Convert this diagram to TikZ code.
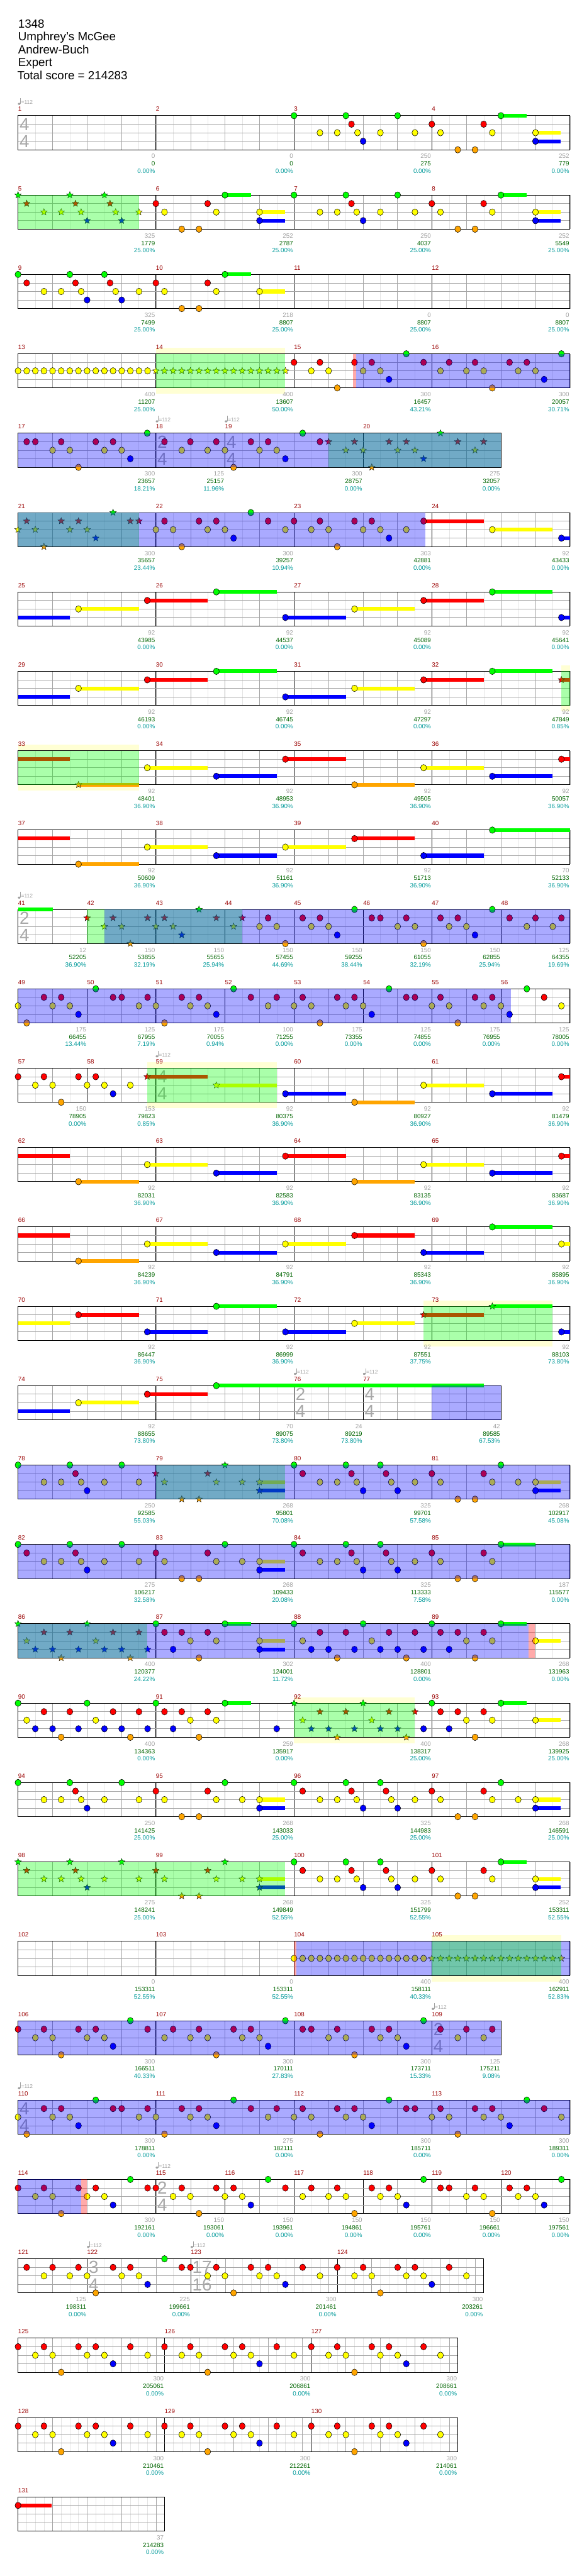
\documentclass[tikz,border=0pt]{standalone}
\usepackage{fontspec}
\setmainfont{Liberation Sans}
\usetikzlibrary{shapes.geometric}
\definecolor{nGcol}{HTML}{00FF00}
\definecolor{nRcol}{HTML}{FF0000}
\definecolor{nYcol}{HTML}{FFFF00}
\definecolor{nBcol}{HTML}{0000FF}
\definecolor{nOcol}{HTML}{FFA500}
\definecolor{cPale}{HTML}{FFFFD4}
\definecolor{cLbGray}{HTML}{A0A0A0}
\definecolor{cLbGreen}{HTML}{006400}
\definecolor{cLbTeal}{HTML}{009999}
\definecolor{cMnum}{HTML}{990000}
\definecolor{cGridLt}{HTML}{E4E4E4}
\definecolor{cGridBt}{HTML}{A6A6A6}
\definecolor{cSig}{HTML}{A8A8A8}
\definecolor{cTmp}{HTML}{A0A0A0}
\newcount\lc
\newcount\sc
% note heads, stars and sustains (x in reference units, lane 0..4)
\newcommand\noteset[3]{\foreach \xx in {#3}{\filldraw[fill=#2, draw=black, line width=0.6pt] (\xx,#1*15.15) ellipse [x radius=5.3pt, y radius=5.8pt];}}
\newcommand\starset[3]{\foreach \xx in {#3}{\global\advance\sc by 1\relax \node[starnote, fill=#2, name=st\the\sc] at (\xx,#1*15.15) {};}}
\newcommand\nGn[1]{\noteset{0}{nGcol}{#1}}
\newcommand\nRd[1]{\noteset{1}{nRcol}{#1}}
\newcommand\nYl[1]{\noteset{2}{nYcol}{#1}}
\newcommand\nBl[1]{\noteset{3}{nBcol}{#1}}
\newcommand\nOr[1]{\noteset{4}{nOcol}{#1}}
\newcommand\sGn[1]{\starset{0}{nGcol}{#1}}
\newcommand\sRd[1]{\starset{1}{nRcol}{#1}}
\newcommand\sYl[1]{\starset{2}{nYcol}{#1}}
\newcommand\sBl[1]{\starset{3}{nBcol}{#1}}
\newcommand\sOr[1]{\starset{4}{nOcol}{#1}}
\newcommand\sus[4]{\fill[#2] (#3,#1*15.15-3.4) rectangle (#4,#1*15.15+3.4);}
% overlays
\newcommand\ovl[3]{\fill[#1, opacity=0.333] (#2,0) rectangle (#3,60.6);}
\newcommand\paley[2]{\fill[cPale] (#1,-10.6) rectangle (#2,71.2);}
% labels
\newcommand\lbl[4]{\global\advance\lc by 1\relax
  \node[lbg, name=sa\the\lc] at (#1-2,76) {#2};
  \node[lbn, name=sb\the\lc] at (#1-2,89.3) {#3};
  \node[lbp, name=sc\the\lc] at (#1-2,102.3) {#4\%};}
\newcommand\tsig[3]{\global\advance\lc by 1\relax
  \node[tsg, name=tn\the\lc] at (#1+4,15.4) {#2};
  \node[tsg, name=td\the\lc] at (#1+4,45.6) {#3};}
\newcommand\tmpo[1]{\global\advance\lc by 1\relax
  \fill[cTmp] (#1+3,-21) ellipse [x radius=2.3pt, y radius=1.9pt];
  \draw[cTmp, line width=0.5pt] (#1+6.2,-21) -- (#1+6.2,-31);
  \node[tmp, name=tp\the\lc] at (#1+8,-20.5) {=112};}
\newcommand\mnums[2]{\foreach \xx [count=\ii from #1] in {#2}{\node[mnum, name=m\ii] at (\xx,-7.8) {\ii};}}
% staff
\newcommand\stfill[1]{\fill[white] (48,0) rectangle (#1,60.6);}
\newcommand\steighth[1]{\foreach \xx in {93.9375,139.875,...,#1}{\draw[gridlt] (\xx,0) -- (\xx,60.6);}
  \foreach \xx in {139.875,231.75,...,#1}{\draw[gridbt] (\xx,0) -- (\xx,60.6);}}
\newcommand\stsixt[1]{\foreach \mm in {#1}{\foreach \j in {1,...,16}{\draw[gridlt] ({\mm+22.97*\j},0) -- ++(0,60.6);}
  \foreach \j in {4,8,12,16}{\draw[gridbt] ({\mm+22.97*\j},0) -- ++(0,60.6);}}}
\newcommand\stfin[2]{\foreach \xx in {#2}{\draw[measln] (\xx,0) -- (\xx,60.6);}
  \foreach \yy in {15.15,30.3,45.45}{\draw[lanel] (48,\yy) -- (#1,\yy);}
  \draw[frame] (48,0) rectangle (#1,60.6);}
\newcommand\staff[2]{\stfill{#1}\steighth{#1}\stfin{#1}{#2}}

\begin{document}
\begin{tikzpicture}[x=0.6667pt, y=-1pt,
    rowat/.style={shift={(0,205.5+141*#1)}},
    gridlt/.style={draw=cGridLt, line width=0.6pt},
    gridbt/.style={draw=cGridBt, line width=0.6pt},
    measln/.style={draw=black, line width=0.6pt},
    lanel/.style={draw=cGridBt, line width=0.9pt},
    frame/.style={draw=black, line width=1.1pt},
    starnote/.style={star, star points=5, star point ratio=2.3, minimum size=12.5pt, inner sep=0pt, draw=black, line width=0.4pt},
    lbg/.style={anchor=base east, inner sep=0pt, text=cLbGray, font=\fontsize{11}{13}\selectfont},
    lbn/.style={anchor=base east, inner sep=0pt, text=cLbGreen, font=\fontsize{11}{13}\selectfont},
    lbp/.style={anchor=base east, inner sep=0pt, text=cLbTeal, font=\fontsize{11}{13}\selectfont},
    mnum/.style={anchor=base west, inner sep=0pt, text=cMnum, font=\fontsize{11}{13}\selectfont},
    tmp/.style={anchor=base west, inner sep=0pt, text=cTmp, font=\fontsize{9.5}{11}\selectfont},
    tsg/.style={anchor=west, inner sep=0pt, text=cSig, font=\fontsize{31}{33}\selectfont},
    hdr/.style={anchor=base west, inner sep=0pt, font=\fontsize{21}{24}\selectfont},
]
\useasboundingbox (0,0) rectangle (1536,4576);

% header
\node[hdr] (songid) at (48,49.2) {1348};
\node[hdr] (artist) at (48,72.2) {Umphrey's McGee};
\node[hdr] (title) at (48,95.2) {Andrew-Buch};
\node[hdr] (level) at (48,118.2) {Expert};
\node[hdr] (total) at (46,141.2) {Total score = 214283};

% measures 1-4
\begin{scope}[rowat=0]
\staff{1518}{415,783,1150}
\tsig{48}{4}{4}
\sus{0}{nGcol}{1334}{1403}\sus{2}{nYcol}{1426}{1493}\sus{3}{nBcol}{1426}{1493}
\nGn{783,921,1059,1334}
\nRd{936,1150,1288}
\nYl{852,898,952,1013,1105,1173,1311,1426}
\nBl{967,1426}
\nOr{1219,1265}
\tmpo{48}
\mnums{1}{48,415,783,1150}
\lbl{415}{0}{0}{0.00}\lbl{783}{0}{0}{0.00}\lbl{1150}{250}{275}{0.00}\lbl{1518}{252}{779}{0.00}
\end{scope}

% measures 5-8
\begin{scope}[rowat=1]
\staff{1518}{415,783,1150}
\sus{0}{nGcol}{599}{668}\sus{0}{nGcol}{1334}{1403}
\sus{2}{nYcol}{691}{759}\sus{2}{nYcol}{1426}{1493}
\sus{3}{nBcol}{691}{759}\sus{3}{nBcol}{1426}{1493}
\sGn{48,186,278}\sRd{71,201,293}\sYl{117,163,216,308,370}\sBl{232,324}
\nGn{599,783,921,1059,1334}
\nRd{415,553,936,1150,1288}
\nYl{438,576,691,852,898,950,1013,1105,1173,1311,1426}
\nBl{691,967,1426}
\nOr{484,530,1219,1265}
\ovl{nGcol}{48}{370}
\mnums{5}{48,415,783,1150}
\lbl{415}{325}{1779}{25.00}\lbl{783}{252}{2787}{25.00}\lbl{1150}{250}{4037}{25.00}\lbl{1518}{252}{5549}{25.00}
\end{scope}

% measures 9-12
\begin{scope}[rowat=2]
\staff{1518}{415,783,1150}
\sus{0}{nGcol}{599}{668}\sus{2}{nYcol}{691}{759}
\nGn{48,186,278,599}
\nRd{71,201,293,415,553}
\nYl{117,163,216,308,370,438,576,691}
\nBl{232,324}
\nOr{484,530}
\mnums{9}{48,415,783,1150}
\lbl{415}{325}{7499}{25.00}\lbl{783}{218}{8807}{25.00}\lbl{1150}{0}{8807}{25.00}\lbl{1518}{0}{8807}{25.00}
\end{scope}

% measures 13-16
\begin{scope}[rowat=3]
\paley{415}{759}
\staff{1518}{415,783,1150}
\nYl{48,71,...,393}
\sYl{415,438,...,760}
\nRd{783,852,944,990,1128,1196,1265,1357,1403}
\nYl{829,875,967,1013,1173,1242,1288,1380,1426}
\nGn{1082,1495}
\nBl{1036,1449}
\nOr{898,1311}
\ovl{nGcol}{415}{759}\ovl{nRcol}{940}{948}\ovl{nBcol}{948}{1518}
\mnums{13}{48,415,783,1150}
\lbl{415}{400}{11207}{25.00}\lbl{783}{400}{13607}{50.00}\lbl{1150}{300}{16457}{43.21}\lbl{1518}{300}{20057}{30.71}
\end{scope}

% measures 17-20
\begin{scope}[rowat=4]
\staff{1334}{415,599,967}
\tsig{415}{2}{4}\tsig{599}{4}{4}
\nRd{71,94,163,255,301,438,507,576,668,714,852}
\nYl{140,186,278,324,484,553,599,691,737}
\nGn{392,806}
\nBl{347,760}
\nOr{209,622}
\sRd{875,944,1036,1082,1219,1288}\sYl{921,967,1059,1105,1265}\sGn{1173}\sBl{1128}\sOr{990}
\ovl{nGcol}{875}{1334}\ovl{nBcol}{48}{1334}
\tmpo{415}\tmpo{599}
\mnums{17}{48,415,599,967}
\lbl{415}{300}{23657}{18.21}\lbl{599}{125}{25157}{11.96}\lbl{967}{300}{28757}{0.00}\lbl{1334}{275}{32057}{0.00}
\end{scope}

% measures 21-24
\begin{scope}[rowat=5]
\staff{1518}{415,783,1150}
\sus{1}{nRcol}{1128}{1288}\sus{2}{nYcol}{1311}{1472}\sus{3}{nBcol}{1495}{1518}
\sRd{71,163,209,347,370}\sYl{48,94,186,232}\sGn{301}\sBl{255}\sOr{117}
\nRd{438,530,576,714,783,852,944,990,1128}
\nYl{415,461,553,599,760,829,875,967,1013,1082,1311}
\nGn{668}
\nBl{622,1036,1495}
\nOr{484,898}
\ovl{nGcol}{48}{370}\ovl{nBcol}{48}{1133}
\mnums{21}{48,415,783,1150}
\lbl{415}{300}{35657}{23.44}\lbl{783}{300}{39257}{10.94}\lbl{1150}{303}{42881}{0.00}\lbl{1518}{92}{43433}{0.00}
\end{scope}

% measures 25-28
\begin{scope}[rowat=6]
\staff{1518}{415,783,1150}
\sus{3}{nBcol}{48}{186}\sus{3}{nBcol}{760}{921}\sus{3}{nBcol}{1495}{1518}
\sus{2}{nYcol}{209}{370}\sus{2}{nYcol}{944}{1104}
\sus{1}{nRcol}{392}{553}\sus{1}{nRcol}{1128}{1288}
\sus{0}{nGcol}{576}{737}\sus{0}{nGcol}{1311}{1472}
\nBl{760,1495}\nYl{209,944}\nRd{392,1128}\nGn{576,1311}
\mnums{25}{48,415,783,1150}
\lbl{415}{92}{43985}{0.00}\lbl{783}{92}{44537}{0.00}\lbl{1150}{92}{45089}{0.00}\lbl{1518}{92}{45641}{0.00}
\end{scope}

% measures 29-32
\begin{scope}[rowat=7]
\paley{1495}{1518}
\staff{1518}{415,783,1150}
\sus{3}{nBcol}{48}{186}\sus{3}{nBcol}{760}{921}
\sus{2}{nYcol}{209}{370}\sus{2}{nYcol}{944}{1104}
\sus{1}{nRcol}{392}{553}\sus{1}{nRcol}{1128}{1288}\sus{1}{nRcol}{1495}{1518}
\sus{0}{nGcol}{576}{737}\sus{0}{nGcol}{1311}{1472}
\nBl{760}\nYl{209,944}\nRd{392,1128}\nGn{576,1311}\sRd{1495}
\ovl{nGcol}{1495}{1518}
\mnums{29}{48,415,783,1150}
\lbl{415}{92}{46193}{0.00}\lbl{783}{92}{46745}{0.00}\lbl{1150}{92}{47297}{0.00}\lbl{1518}{92}{47849}{0.85}
\end{scope}

% measures 33-36
\begin{scope}[rowat=8]
\paley{48}{370}
\staff{1518}{415,783,1150}
\sus{1}{nRcol}{48}{186}\sus{4}{nOcol}{209}{370}\sus{2}{nYcol}{392}{553}\sus{2}{nYcol}{1128}{1288}
\sus{3}{nBcol}{576}{737}\sus{3}{nBcol}{1311}{1472}\sus{1}{nRcol}{760}{921}\sus{1}{nRcol}{1495}{1518}\sus{4}{nOcol}{944}{1104}
\sOr{209}\nYl{392,1128}\nBl{576,1311}\nRd{760,1495}\nOr{944}
\ovl{nGcol}{48}{370}
\mnums{33}{48,415,783,1150}
\lbl{415}{92}{48401}{36.90}\lbl{783}{92}{48953}{36.90}\lbl{1150}{92}{49505}{36.90}\lbl{1518}{92}{50057}{36.90}
\end{scope}

% measures 37-40
\begin{scope}[rowat=9]
\staff{1518}{415,783,1150}
\sus{1}{nRcol}{48}{186}\sus{1}{nRcol}{944}{1104}\sus{4}{nOcol}{209}{370}\sus{2}{nYcol}{392}{553}\sus{2}{nYcol}{760}{921}
\sus{3}{nBcol}{576}{737}\sus{3}{nBcol}{1128}{1288}\sus{0}{nGcol}{1311}{1518}
\nRd{944}\nOr{209}\nYl{392,760}\nBl{576,1128}\nGn{1311}
\mnums{37}{48,415,783,1150}
\lbl{415}{92}{50609}{36.90}\lbl{783}{92}{51161}{36.90}\lbl{1150}{92}{51713}{36.90}\lbl{1518}{70}{52133}{36.90}
\end{scope}

% measures 41-48
\begin{scope}[rowat=10]
\staff{1518}{232,415,599,783,967,1150,1334}
\tsig{48}{2}{4}
\sus{0}{nGcol}{48}{140}
\sRd{232,301,393,438,576,645}\sYl{278,324,415,461,622}\sGn{530}\sBl{484}\sOr{347}
\nRd{714,806,852,990,1013,1082,1173,1219,1357,1426,1495}
\nYl{691,737,829,875,1059,1105,1196,1242,1403,1472}
\nGn{944,1311}\nBl{898,1265}\nOr{760,1128}
\ovl{nGcol}{232}{645}\ovl{nBcol}{278}{1518}
\tmpo{48}
\mnums{41}{48,232,415,599,783,967,1150,1334}
\lbl{232}{12}{52205}{36.90}\lbl{415}{150}{53855}{32.19}\lbl{599}{150}{55655}{25.94}\lbl{783}{150}{57455}{44.69}
\lbl{967}{150}{59255}{38.44}\lbl{1150}{150}{61055}{32.19}\lbl{1334}{150}{62855}{25.94}\lbl{1518}{125}{64355}{19.69}
\end{scope}

% measures 49-56
\begin{scope}[rowat=11]
\staff{1518}{232,415,599,783,967,1150,1334}
\nYl{48,140,186,370,415,507,553,714,783,829,921,967,1150,1196,1288,1334,1495}
\nRd{117,163,301,324,393,484,530,668,737,806,898,944,1082,1105,1173,1265,1311,1449}
\nGn{255,622,1036,1403}\nBl{209,576,990,1357}\nOr{71,438,852,1219}
\ovl{nBcol}{48}{1360}
\mnums{49}{48,232,415,599,783,967,1150,1334}
\lbl{232}{175}{66455}{13.44}\lbl{415}{125}{67955}{7.19}\lbl{599}{175}{70055}{0.94}\lbl{783}{100}{71255}{0.00}
\lbl{967}{175}{73355}{0.00}\lbl{1150}{125}{74855}{0.00}\lbl{1334}{175}{76955}{0.00}\lbl{1518}{125}{78005}{0.00}
\end{scope}

% measures 57-61
\begin{scope}[rowat=12]
\paley{392}{737}
\staff{1518}{232,415,783,1150}
\tsig{415}{4}{4}
\sus{1}{nRcol}{392}{553}\sus{2}{nYcol}{576}{737}\sus{3}{nBcol}{760}{921}\sus{4}{nOcol}{944}{1104}
\sus{2}{nYcol}{1128}{1288}\sus{3}{nBcol}{1311}{1472}\sus{1}{nRcol}{1495}{1518}
\nRd{48,117,209,255,1495}\nYl{94,140,232,278,347,1128}\nBl{301,760,1311}\nOr{163,944}
\sRd{392}\sYl{576}
\ovl{nGcol}{392}{737}
\tmpo{415}
\mnums{57}{48,232,415,783,1150}
\lbl{232}{150}{78905}{0.00}\lbl{415}{153}{79823}{0.85}\lbl{783}{92}{80375}{36.90}\lbl{1150}{92}{80927}{36.90}\lbl{1518}{92}{81479}{36.90}
\end{scope}

% measures 62-65
\begin{scope}[rowat=13]
\staff{1518}{415,783,1150}
\sus{1}{nRcol}{48}{186}\sus{1}{nRcol}{760}{921}\sus{1}{nRcol}{1495}{1518}\sus{4}{nOcol}{209}{370}\sus{4}{nOcol}{944}{1104}
\sus{2}{nYcol}{392}{553}\sus{2}{nYcol}{1128}{1288}\sus{3}{nBcol}{576}{737}\sus{3}{nBcol}{1311}{1472}
\nRd{760,1495}\nOr{209,944}\nYl{392,1128}\nBl{576,1311}
\mnums{62}{48,415,783,1150}
\lbl{415}{92}{82031}{36.90}\lbl{783}{92}{82583}{36.90}\lbl{1150}{92}{83135}{36.90}\lbl{1518}{92}{83687}{36.90}
\end{scope}

% measures 66-69
\begin{scope}[rowat=14]
\staff{1518}{415,783,1150}
\sus{1}{nRcol}{48}{186}\sus{1}{nRcol}{944}{1104}\sus{4}{nOcol}{209}{370}\sus{2}{nYcol}{392}{553}\sus{2}{nYcol}{760}{921}
\sus{2}{nYcol}{1495}{1518}\sus{3}{nBcol}{576}{737}\sus{3}{nBcol}{1128}{1288}\sus{0}{nGcol}{1311}{1472}
\nRd{944}\nOr{209}\nYl{392,760,1495}\nBl{576,1128}\nGn{1311}
\mnums{66}{48,415,783,1150}
\lbl{415}{92}{84239}{36.90}\lbl{783}{92}{84791}{36.90}\lbl{1150}{92}{85343}{36.90}\lbl{1518}{92}{85895}{36.90}
\end{scope}

% measures 70-73
\begin{scope}[rowat=15]
\paley{1128}{1472}
\staff{1518}{415,783,1150}
\sus{2}{nYcol}{48}{186}\sus{2}{nYcol}{944}{1104}\sus{1}{nRcol}{209}{370}\sus{1}{nRcol}{1128}{1288}
\sus{3}{nBcol}{392}{553}\sus{3}{nBcol}{760}{921}\sus{3}{nBcol}{1495}{1518}\sus{0}{nGcol}{576}{737}\sus{0}{nGcol}{1311}{1472}
\nYl{944}\nRd{209}\nBl{392,760,1495}\nGn{576}\sRd{1128}\sGn{1311}
\ovl{nGcol}{1128}{1472}
\mnums{70}{48,415,783,1150}
\lbl{415}{92}{86447}{36.90}\lbl{783}{92}{86999}{36.90}\lbl{1150}{92}{87551}{37.75}\lbl{1518}{92}{88103}{73.80}
\end{scope}

% measures 74-77
\begin{scope}[rowat=16]
\staff{1334}{415,783,967}
\tsig{783}{2}{4}\tsig{967}{4}{4}
\sus{3}{nBcol}{48}{186}\sus{2}{nYcol}{209}{370}\sus{1}{nRcol}{392}{553}\sus{0}{nGcol}{576}{1288}
\nYl{209}\nRd{392}\nGn{576}
\ovl{nBcol}{1150}{1334}
\tmpo{783}\tmpo{967}
\mnums{74}{48,415,783,967}
\lbl{415}{92}{88655}{73.80}\lbl{783}{70}{89075}{73.80}\lbl{967}{24}{89219}{73.80}\lbl{1334}{42}{89585}{67.53}
\end{scope}

% measures 78-81
\begin{scope}[rowat=17]
\staff{1518}{415,783,1150}
\sus{2}{nYcol}{691}{759}\sus{3}{nBcol}{691}{759}\sus{2}{nYcol}{1426}{1493}\sus{3}{nBcol}{1426}{1493}
\nGn{48,186,324,783,921,1013,1334}
\nRd{201,806,936,1028,1150,1288}
\nYl{117,163,216,278,370,852,898,950,1042,1105,1173,1311,1380,1426}
\nBl{232,967,1059,1426}
\nOr{1219,1265}
\sRd{415,553}\sYl{438,576,645,691}\sGn{599}\sBl{691}\sOr{484,530}
\ovl{nGcol}{415}{759}\ovl{nBcol}{48}{1518}
\mnums{78}{48,415,783,1150}
\lbl{415}{250}{92585}{55.03}\lbl{783}{268}{95801}{70.08}\lbl{1150}{325}{99701}{57.58}\lbl{1518}{268}{102917}{45.08}
\end{scope}

% measures 82-85
\begin{scope}[rowat=18]
\staff{1518}{415,783,1150}
\sus{0}{nGcol}{1334}{1426}\sus{2}{nYcol}{691}{759}\sus{3}{nBcol}{691}{759}
\nGn{48,186,324,599,783,921,1013,1334}
\nRd{71,201,415,553,806,936,1028,1150,1288}
\nYl{117,163,216,278,370,438,576,645,691,852,898,950,1042,1105,1173,1311}
\nBl{232,691,967,1059}
\nOr{484,530,1219,1265}
\ovl{nBcol}{48}{1518}
\mnums{82}{48,415,783,1150}
\lbl{415}{275}{106217}{32.58}\lbl{783}{268}{109433}{20.08}\lbl{1150}{325}{113333}{7.58}\lbl{1518}{187}{115577}{0.00}
\end{scope}

% measures 86-89
\begin{scope}[rowat=19]
\staff{1518}{415,783,1150}
\sus{0}{nGcol}{599}{668}\sus{0}{nGcol}{1334}{1403}\sus{2}{nYcol}{691}{759}\sus{3}{nBcol}{691}{759}\sus{2}{nYcol}{1426}{1493}
\sGn{48,232}\sRd{117,186,301,370}\sYl{71,255}\sBl{94,140,209,278,324,393}\sOr{163,347}
\nGn{415,599,783,967,1150,1334}
\nRd{438,484,553,852,921,1036,1105,1173,1219,1288}
\nYl{507,576,691,806,990,1242,1311,1426}
\nBl{461,691,829,875,944,1013,1059,1128,1196}
\nOr{530,898,1082,1265}
\ovl{nGcol}{48}{392}\ovl{nBcol}{48}{1407}\ovl{nRcol}{1407}{1425}
\mnums{86}{48,415,783,1150}
\lbl{415}{400}{120377}{24.22}\lbl{783}{302}{124001}{11.72}\lbl{1150}{400}{128801}{0.00}\lbl{1518}{268}{131963}{0.00}
\end{scope}

% measures 90-93
\begin{scope}[rowat=20]
\paley{783}{1104}
\staff{1518}{415,783,1150}
\sus{0}{nGcol}{599}{668}\sus{0}{nGcol}{1334}{1403}\sus{2}{nYcol}{1426}{1493}
\nGn{48,232,415,599,1150,1334}
\nRd{117,186,301,370,438,484,553,1173,1219,1288}
\nYl{71,255,507,576,1242,1311,1426}
\nBl{94,140,209,278,324,393,461,737,1128,1196}
\nOr{163,347,530,1265}
\sGn{783,967}\sRd{852,921,1036,1105}\sYl{806,990}\sBl{829,875,944,1013,1059}\sOr{898,1082}
\ovl{nGcol}{783}{1104}
\mnums{90}{48,415,783,1150}
\lbl{415}{400}{134363}{0.00}\lbl{783}{259}{135917}{0.00}\lbl{1150}{400}{138317}{25.00}\lbl{1518}{268}{139925}{25.00}
\end{scope}

% measures 94-97
\begin{scope}[rowat=21]
\staff{1518}{415,783,1150}
\sus{2}{nYcol}{691}{759}\sus{3}{nBcol}{691}{759}\sus{2}{nYcol}{1426}{1493}\sus{3}{nBcol}{1426}{1493}
\nGn{48,186,324,599,783,921,1013,1334}
\nRd{201,415,553,806,936,1028,1150,1288}
\nYl{117,163,216,278,370,438,576,645,691,852,898,950,1042,1105,1173,1311,1380,1426}
\nBl{232,691,967,1059,1426}
\nOr{484,530,1219,1265}
\mnums{94}{48,415,783,1150}
\lbl{415}{250}{141425}{25.00}\lbl{783}{268}{143033}{25.00}\lbl{1150}{325}{144983}{25.00}\lbl{1518}{268}{146591}{25.00}
\end{scope}

% measures 98-101
\begin{scope}[rowat=22]
\staff{1518}{415,783,1150}
\sus{2}{nYcol}{691}{759}\sus{3}{nBcol}{691}{759}\sus{0}{nGcol}{1334}{1403}\sus{2}{nYcol}{1426}{1493}\sus{3}{nBcol}{1426}{1493}
\sGn{48,186,324,599}\sRd{71,201,415,553}\sYl{117,163,216,278,370,438,576,645,691}\sBl{232,691}\sOr{484,530}
\nGn{783,921,1013,1334}\nRd{806,936,1028,1150,1288}\nYl{852,898,950,1042,1105,1173,1311,1426}\nBl{967,1059,1426}\nOr{1219,1265}
\ovl{nGcol}{48}{759}
\mnums{98}{48,415,783,1150}
\lbl{415}{275}{148241}{25.00}\lbl{783}{268}{149849}{52.55}\lbl{1150}{325}{151799}{52.55}\lbl{1518}{252}{153311}{52.55}
\end{scope}

% measures 102-105
\begin{scope}[rowat=23]
\paley{1150}{1495}
\staff{1518}{415,783,1150}
\nYl{783,806,...,1128}
\sYl{1150,1173,...,1495}
\ovl{nRcol}{783}{790}\ovl{nBcol}{790}{1518}\ovl{nGcol}{1150}{1495}
\mnums{102}{48,415,783,1150}
\lbl{415}{0}{153311}{52.55}\lbl{783}{0}{153311}{52.55}\lbl{1150}{400}{158111}{40.33}\lbl{1518}{400}{162911}{52.83}
\end{scope}

% measures 106-109
\begin{scope}[rowat=24]
\staff{1334}{415,783,1150}
\tsig{1150}{2}{4}
\nRd{48,117,209,255,393,461,530,622,668,806,829,898,990,1036,1173,1242,1311}
\nYl{94,140,232,278,438,507,553,645,691,875,921,1013,1059,1219,1288}
\nGn{347,760,1128}\nBl{301,714,1082}\nOr{163,576,944}
\ovl{nBcol}{48}{1334}
\tmpo{1150}
\mnums{106}{48,415,783,1150}
\lbl{415}{300}{166511}{40.33}\lbl{783}{300}{170111}{27.83}\lbl{1150}{300}{173711}{15.33}\lbl{1334}{125}{175211}{9.08}
\end{scope}

% measures 110-113
\begin{scope}[rowat=25]
\staff{1518}{415,783,1150}
\tsig{48}{4}{4}
\nGn{255,622,1036,1403}
\nRd{117,163,301,324,393,484,530,668,737,806,898,944,1082,1105,1173,1265,1311,1449}
\nYl{48,140,186,370,415,507,553,714,783,829,921,967,1150,1196,1288,1334,1495}
\nBl{209,576,990,1357}\nOr{71,438,852,1219}
\ovl{nBcol}{48}{1518}
\tmpo{48}
\mnums{110}{48,415,783,1150}
\lbl{415}{300}{178811}{0.00}\lbl{783}{275}{182111}{0.00}\lbl{1150}{300}{185711}{0.00}\lbl{1518}{300}{189311}{0.00}
\end{scope}

% measures 114-120
\begin{scope}[rowat=26]
\staff{1518}{415,599,783,967,1150,1334}
\tsig{415}{2}{4}
\nRd{48,117,209,255,393,415,484,576,622,760,829,898,990,1036,1173,1196,1265,1357,1403}
\nYl{94,140,232,278,461,507,599,645,806,875,921,1013,1059,1242,1288,1380,1426}
\nGn{347,714,1128,1495}\nBl{301,668,1082,1449}\nOr{163,530,944,1311}
\ovl{nBcol}{48}{216}\ovl{nRcol}{216}{232}
\tmpo{415}
\mnums{114}{48,415,599,783,967,1150,1334}
\lbl{415}{300}{192161}{0.00}\lbl{599}{150}{193061}{0.00}\lbl{783}{150}{193961}{0.00}\lbl{967}{150}{194861}{0.00}
\lbl{1150}{150}{195761}{0.00}\lbl{1334}{150}{196661}{0.00}\lbl{1518}{150}{197561}{0.00}
\end{scope}

% measures 121-124
\begin{scope}[rowat=27]
\stfill{1288}\steighth{508}\stsixt{508,898}\stfin{1288}{232,508,898}
\tsig{232}{3}{4}\tsig{508}{17}{16}
\nRd{71,140,209,301,347,484,507,576,668,714,806,898,967,1059,1105,1196}
\nYl{117,186,232,324,370,553,599,691,737,852,944,990,1082,1128,1242}
\nGn{438}\nBl{393,760,1150}\nOr{255,622,1013}
\tmpo{232}\tmpo{508}
\mnums{121}{48,232,508,898}
\lbl{232}{125}{198311}{0.00}\lbl{508}{225}{199661}{0.00}\lbl{898}{300}{201461}{0.00}\lbl{1288}{300}{203261}{0.00}
\end{scope}

% measures 125-127
\begin{scope}[rowat=28]
\stfill{1219}\stsixt{48,438,829}\stfin{1219}{438,829}
\nRd{48,117,209,255,347,438,507,599,645,737,829,898,990,1036,1128}
\nYl{94,140,232,278,393,484,530,622,668,783,875,921,1013,1059,1173}
\nBl{301,691,1082}\nOr{163,553,944}
\mnums{125}{48,438,829}
\lbl{438}{300}{205061}{0.00}\lbl{829}{300}{206861}{0.00}\lbl{1219}{300}{208661}{0.00}
\end{scope}

% measures 128-130
\begin{scope}[rowat=29]
\stfill{1219}\stsixt{48,438,829}\stfin{1219}{438,829}
\nRd{48,117,209,255,347,438,507,599,645,737,829,898,990,1036,1128}
\nYl{94,140,232,278,393,484,530,622,668,783,875,921,1013,1059,1173}
\nBl{301,691,1082}\nOr{163,553,944}
\mnums{128}{48,438,829}
\lbl{438}{300}{210461}{0.00}\lbl{829}{300}{212261}{0.00}\lbl{1219}{300}{214061}{0.00}
\end{scope}

% measure 131
\begin{scope}[rowat=30]
\stfill{438}\stsixt{48}\stfin{438}{48}
\sus{1}{nRcol}{48}{138}
\nRd{48}
\mnums{131}{48}
\lbl{438}{37}{214283}{0.00}
\end{scope}

\end{tikzpicture}
\end{document}
